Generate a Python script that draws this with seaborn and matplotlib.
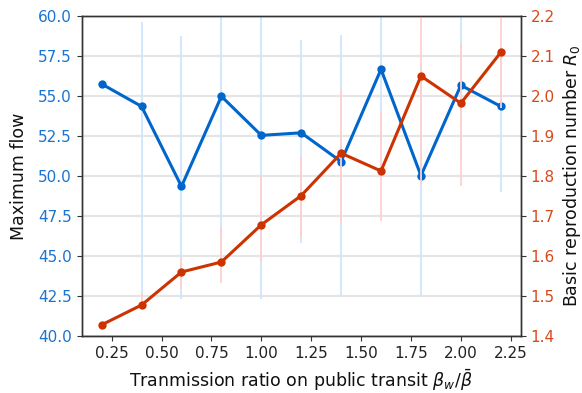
import numpy as np
import pandas as pd
import matplotlib
matplotlib.use("Agg")
import matplotlib.pyplot as plt
import seaborn as sns

# ---- data ----
ratio = [0.2, 0.4, 0.6, 0.8, 1.0, 1.2, 1.4, 1.6, 1.8, 2.0, 2.2]
max_flow = [55.75, 54.35, 49.35, 54.98, 52.54, 52.7, 50.9, 56.67, 50.02, 55.67, 54.35]
max_flow_lo = [55.75, 42.4, 42.3, 45.0, 42.3, 45.8, 42.5, 52.0, 42.5, 51.0, 49.0]
max_flow_hi = [55.75, 59.6, 58.75, 60.5, 60.5, 58.5, 58.8, 60.5, 57.0, 60.5, 58.0]
r0 = [1.428, 1.4775, 1.56, 1.585, 1.678, 1.751, 1.857, 1.8125, 2.05, 1.982, 2.109]
r0_lo = [1.428, 1.47, 1.517, 1.532, 1.586, 1.645, 1.68, 1.688, 1.7775, 1.775, 1.97]
r0_hi = [1.428, 1.507, 1.598, 1.673, 1.8025, 1.848, 2.017, 1.961, 2.30, 2.132, 2.30]
left_ticks = [40.0, 42.5, 45.0, 47.5, 50.0, 52.5, 55.0, 57.5, 60.0]
right_ticks = [1.4, 1.5, 1.6, 1.7, 1.8, 1.9, 2.0, 2.1, 2.2]
x_ticks = [0.25, 0.50, 0.75, 1.00, 1.25, 1.50, 1.75, 2.00, 2.25]

BLUE = "#0066cc"
RED = "#cc3300"
BLUE_LIGHT = "#cfe6fd"
RED_LIGHT = "#ffd0d0"

df = pd.DataFrame({"ratio": ratio, "flow": max_flow, "r0": r0})

sns.set_style("ticks")
plt.rcParams["font.family"] = ["DejaVu Sans"]

fig = plt.figure(figsize=(5.82, 3.93), dpi=100)
ax = fig.add_axes([0.1404, 0.145, 0.7543, 0.8143])

# left axis: max flow
yerr_b = [np.array(max_flow) - np.array(max_flow_lo), np.array(max_flow_hi) - np.array(max_flow)]
ax.errorbar(ratio, max_flow, yerr=yerr_b, fmt="none", ecolor=BLUE_LIGHT, elinewidth=1.3, zorder=1)
sns.lineplot(data=df, x="ratio", y="flow", ax=ax, color=BLUE, marker="o", markersize=6,
             markeredgewidth=0, linewidth=2.2, zorder=3)
ax.set_ylim(40, 60)
ax.set_yticks(left_ticks)
ax.set_yticklabels([f"{t:.1f}" for t in left_ticks])
ax.set_xlim(0.1, 2.3)
ax.set_xticks(x_ticks)
ax.set_xticklabels([f"{t:.2f}" for t in x_ticks])
ax.grid(axis="y", color="#e5e5e5", linewidth=1.5)
ax.set_axisbelow(True)
ax.tick_params(axis="y", colors="#333333", labelcolor="#1a73d0", labelsize=11)
ax.tick_params(axis="x", colors="#333333", labelcolor="#222222", labelsize=11)
ax.set_ylabel("Maximum flow", fontsize=12.5, color="#111111", labelpad=7)
ax.set_xlabel(r"Tranmission ratio on public transit $\beta_w/\bar{\beta}$", fontsize=12.5,
              color="#111111", labelpad=4.5)

# right axis: R0
ax2 = ax.twinx()
yerr_r = [np.array(r0) - np.array(r0_lo), np.array(r0_hi) - np.array(r0)]
ax2.errorbar(ratio, r0, yerr=yerr_r, fmt="none", ecolor=RED_LIGHT, elinewidth=1.3, zorder=1)
sns.lineplot(data=df, x="ratio", y="r0", ax=ax2, color=RED, marker="o", markersize=6,
             markeredgewidth=0, linewidth=2.2, zorder=3)
ax2.set_ylim(1.4, 2.2)
ax2.set_yticks(right_ticks)
ax2.set_yticklabels([f"{t:.1f}" for t in right_ticks])
ax2.tick_params(axis="y", colors="#333333", labelcolor="#d84a1b", labelsize=11)
ax2.set_ylabel(r"Basic reproduction number $R_0$", fontsize=12.5, color="#111111", labelpad=4.5)
ax2.grid(False)

for a in (ax, ax2):
    for s in a.spines.values():
        s.set_color("#333333")
        s.set_linewidth(1.0)

fig.savefig("out.png", dpi=100)
